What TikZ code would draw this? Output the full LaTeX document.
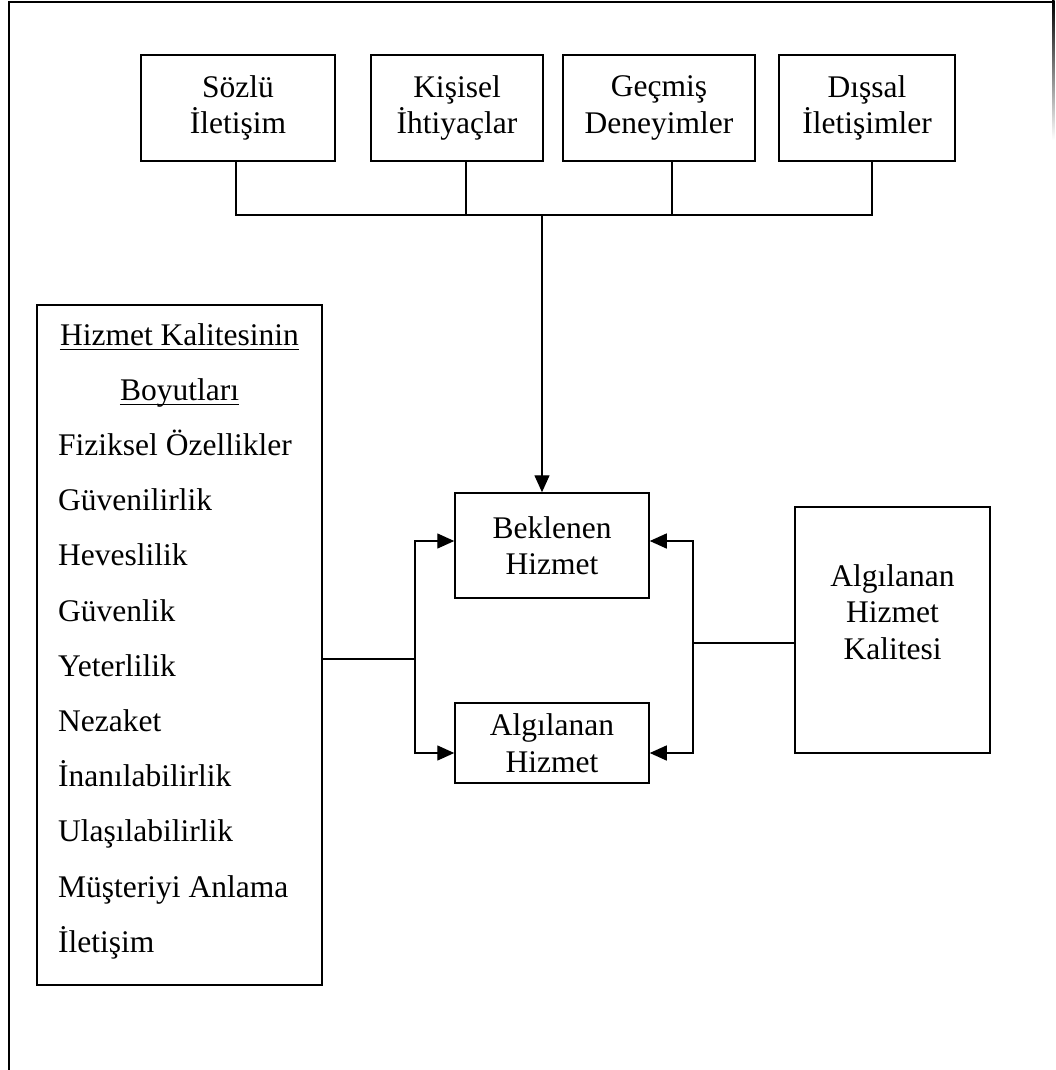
\documentclass[tikz,border=0pt]{standalone}
\usepackage{fontspec}
\setmainfont{Liberation Serif}
\usetikzlibrary{arrows.meta}
\begin{document}
\begin{tikzpicture}[x=1pt,y=-1pt,
  txt/.style={font=\fontsize{31.5}{36.5}\selectfont},
  box/.style={draw, line width=1.5pt, rectangle, inner sep=0pt, align=center, txt},
  wire/.style={line width=1.4pt},
  arr/.style={wire, -{Triangle[length=17pt,width=15pt]}},
  item/.style={anchor=base west, inner sep=0pt, txt},
  head/.style={anchor=base, inner sep=0pt, txt},
]
\useasboundingbox (0,0) rectangle (1056,1070);

% outer frame
\draw[line width=2pt] (9,1070) -- (9,2) -- (1054,2);
\shade[top color=black, bottom color=white] (1052,1) rectangle (1054.5,140);

% sources of expectation
\node[box, minimum width=194pt, minimum height=106pt] (b1) at (238,108) {Sözlü\\İletişim};
\node[box, minimum width=172pt, minimum height=106pt] (b2) at (457,108) {Kişisel\\İhtiyaçlar};
\node[box, minimum width=192pt, minimum height=106pt] (b3) at (659,108) {Geçmiş\\Deneyimler};
\node[box, minimum width=176pt, minimum height=106pt] (b4) at (867,108) {Dışsal\\İletişimler};

% central boxes
\node[box, minimum width=194pt, minimum height=105pt] (bek) at (552,545.5) {Beklenen\\Hizmet};
\node[box, minimum width=194pt, minimum height=80pt] (alg) at (552,743) {Algılanan\\Hizmet};

% perceived quality box
\node[box, minimum width=195pt, minimum height=246pt] (kal) at (892.5,630) {};
\node[txt, align=center, inner sep=0pt] (kaltxt) at (892.5,612) {Algılanan\\Hizmet\\Kalitesi};

% dimensions box
\node[box, minimum width=285pt, minimum height=680pt] (dim) at (179.5,645) {};
\node[head] (h1) at (179.5,345) {Hizmet Kalitesinin};
\node[head] (h2) at (179.5,400.2) {Boyutları};
\draw[line width=1.3pt] ([yshift=-4.5pt]h1.base west) -- ([yshift=-4.5pt]h1.base east);
\draw[line width=1.3pt] ([yshift=-4.5pt]h2.base west) -- ([yshift=-4.5pt]h2.base east);
\foreach \t [count=\k from 2] in {Fiziksel Özellikler, Güvenilirlik, Heveslilik, Güvenlik,
    Yeterlilik, Nezaket, İnanılabilirlik, Ulaşılabilirlik, Müşteriyi Anlama, İletişim}
  \node[item] (d\k) at (58,345+55.2*\k) {\t};

% bus from the four sources
\coordinate (bus) at (542,215);
\draw[wire] ([xshift=-2pt]b1.south) |- ([xshift=5pt]b4.south |- bus) -- ([xshift=5pt]b4.south);
\draw[wire] ([xshift=9pt]b2.south) -- ([xshift=9pt]b2.south |- bus);
\draw[wire] ([xshift=13pt]b3.south) -- ([xshift=13pt]b3.south |- bus);
\draw[arr] (bus) -- ([xshift=-10pt]bek.north);

% left branch
\coordinate (jl) at (415,659);
\draw[wire] (dim.east |- jl) -- (jl);
\draw[arr] (jl) |- ([yshift=4.5pt]bek.west);
\draw[arr] (jl) |- ([yshift=-10pt]alg.west);

% right branch
\coordinate (jr) at (693,643);
\draw[wire] (kal.west |- jr) -- (jr);
\draw[arr] (jr) |- ([yshift=4.5pt]bek.east);
\draw[arr] (jr) |- ([yshift=-10pt]alg.east);
\end{tikzpicture}
\end{document}
